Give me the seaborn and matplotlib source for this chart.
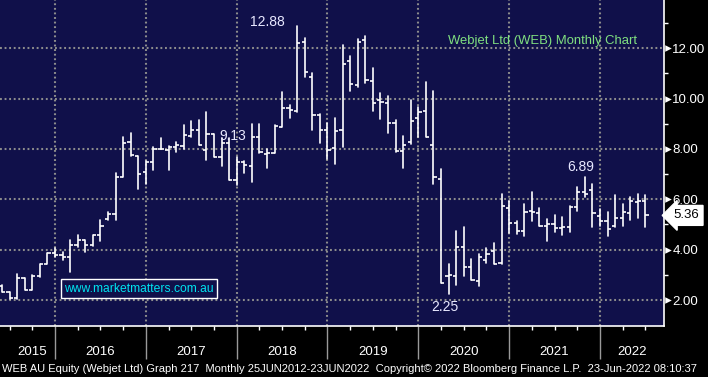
import numpy as np
import pandas as pd
import matplotlib
matplotlib.use("Agg")
import matplotlib.pyplot as plt
import matplotlib.transforms as mtransforms
import seaborn as sns

# monthly OHLC, WEB AU, May-2015 .. Jun-2022
start = "2015-05-31"
opens = [2.55, 2.31, 2.07, 2.86, 2.41, 2.94, 3.45, 3.85,
         3.80, 3.72, 4.17, 4.37, 4.17, 4.57, 5.20, 5.43, 6.90, 8.28, 7.70, 7.08,
         7.48, 7.99, 7.95, 8.08, 8.10, 8.50, 8.74, 7.97, 8.60, 7.68, 8.23, 6.75,
         7.48, 7.32, 8.47, 7.78, 7.84, 8.87, 9.64, 9.50, 12.23, 10.86, 9.36, 8.74,
         8.05, 8.74, 11.48, 10.53, 12.32, 10.69, 9.93, 9.81, 9.04, 7.91, 8.28, 9.22,
         9.51, 8.14, 6.80, 2.97, 2.97, 4.10, 3.32, 2.77, 3.60, 3.95, 3.46, 5.66,
         5.05, 4.73, 5.55, 5.46, 4.93, 5.02, 4.86, 4.89, 5.68, 6.28, 6.37, 5.35,
         5.15, 4.93, 5.26, 5.46, 5.88, 5.92]
highs = [2.58, 2.33, 3.02, 2.88, 3.00, 3.45, 3.85, 4.05,
         3.90, 4.37, 4.60, 4.40, 4.60, 5.16, 5.49, 7.05, 8.47, 8.62, 7.71, 7.51,
         8.08, 8.42, 8.10, 8.27, 8.94, 9.12, 9.14, 9.47, 8.60, 8.45, 8.45, 7.68,
         7.52, 8.98, 8.98, 8.00, 8.94, 10.26, 9.73, 12.88, 12.42, 11.03, 9.40, 9.04,
         9.24, 12.12, 11.68, 12.36, 12.48, 11.23, 10.20, 10.08, 9.15, 8.51, 9.95, 9.68,
         10.64, 10.28, 7.22, 3.43, 4.76, 4.89, 3.63, 3.83, 4.07, 4.25, 6.20, 5.95,
         5.15, 5.81, 6.30, 5.66, 5.22, 5.39, 5.28, 5.75, 6.48, 6.89, 6.61, 5.62,
         5.48, 6.15, 5.81, 6.10, 6.19, 6.15]
lows = [2.30, 2.05, 2.05, 2.38, 2.38, 2.91, 3.45, 3.69,
        3.60, 3.11, 4.10, 3.90, 4.15, 4.34, 5.16, 5.17, 6.87, 7.71, 6.41, 6.60,
        7.15, 7.99, 7.15, 7.88, 7.99, 8.47, 8.14, 7.54, 7.68, 7.32, 6.75, 6.55,
        7.04, 6.68, 7.84, 7.25, 7.84, 8.87, 9.24, 9.47, 10.86, 8.76, 8.23, 7.61,
        7.41, 8.07, 10.30, 10.46, 10.62, 9.51, 9.19, 8.64, 7.89, 7.26, 8.18, 8.46,
        8.48, 6.62, 2.67, 2.25, 2.61, 2.97, 2.78, 2.57, 3.46, 3.43, 3.43, 4.65,
        4.62, 4.56, 5.15, 4.93, 4.33, 4.69, 4.60, 4.69, 5.52, 6.08, 4.89, 4.95,
        4.56, 4.91, 4.95, 5.19, 5.26, 4.89]
closes = [2.31, 2.07, 2.86, 2.41, 2.94, 3.45, 3.85, 3.80,
          3.72, 4.17, 4.37, 4.17, 4.57, 4.94, 5.43, 6.90, 8.23, 7.74, 7.02, 7.48,
          7.98, 8.00, 8.08, 8.15, 8.54, 8.74, 8.14, 8.60, 7.68, 8.23, 6.75, 7.48,
          7.35, 8.47, 7.88, 7.84, 8.90, 9.64, 9.56, 12.19, 11.06, 9.36, 8.74, 7.94,
          8.70, 11.36, 10.57, 12.23, 10.75, 9.82, 9.85, 9.02, 7.91, 8.15, 9.11, 9.48,
          8.48, 6.89, 2.67, 2.99, 4.12, 3.30, 2.79, 3.70, 3.83, 3.45, 5.75, 5.05,
          4.75, 5.51, 5.48, 4.93, 5.02, 4.86, 4.91, 5.68, 6.28, 6.21, 5.44, 5.15,
          4.82, 5.26, 5.48, 5.92, 5.92, 5.36]

price_ticks = [2, 4, 6, 8, 10, 12]
minor_price_ticks = [3, 5, 7, 9, 11, 13]
labels = [("12.88", 35.0, 13.04), ("9.13", 30.5, 8.50),
          ("6.89", 76.5, 7.29), ("2.25", 58.5, 1.74)]
last_price = 5.36
title = "Webjet Ltd (WEB) Monthly Chart"
footer = ("WEB AU Equity (Webjet Ltd) Graph 217  Monthly 25JUN2012-23JUN2022  "
          "Copyright\u00a9 2022 Bloomberg Finance L.P.  23-Jun-2022 08:10:37")

dates = pd.date_range(start, periods=len(opens), freq="ME")
df = pd.DataFrame({"date": dates, "open": opens, "high": highs,
                   "low": lows, "close": closes})
df["x"] = np.arange(len(df))

# long form for high-low sticks
hl = pd.concat([df[["x", "low"]].rename(columns={"low": "price"}),
                df[["x", "high"]].rename(columns={"high": "price"})])
hl["bar"] = hl["x"]

sns.set_theme(style="dark")
plt.rcParams["font.family"] = ["Liberation Sans", "DejaVu Sans"]

navy = "#10104a"
fig = plt.figure(figsize=(7.08, 3.77), dpi=100, facecolor="black")
ax = fig.add_axes([0, 1 - 326 / 377, 664 / 708, 326 / 377])
ax.set_facecolor(navy)

sns.lineplot(data=hl, x="x", y="price", units="bar", estimator=None,
             sort=False, color="white", lw=1.2, ax=ax, legend=False)
tick_len = 0.42
ax.hlines(df["open"], df["x"] - tick_len, df["x"], color="white", lw=1.2)
ax.hlines(df["close"], df["x"], df["x"] + tick_len, color="white", lw=1.2)

ax.set_xlim(-0.26, 87.45)
ax.set_ylim(0.97, 13.91)
ax.set_xlabel("")
ax.set_ylabel("")

# year boundaries = December bars
year_ends = df.loc[df["date"].dt.month == 12, "x"].tolist()
quarters = df.loc[df["date"].dt.month.isin([3, 6, 9]), "x"].tolist()
ax.set_xticks(year_ends)
ax.set_xticklabels([])
ax.set_xticks(quarters, minor=True)
ax.tick_params(axis="x", which="major", length=24, width=1, color="#9a9a9a",
               direction="out", bottom=True)
ax.tick_params(axis="x", which="minor", length=3, width=1, color="white",
               direction="out", bottom=True)

ax.yaxis.tick_right()
ax.set_yticks(price_ticks)
ax.set_yticklabels([f"{v:.2f}" for v in price_ticks])
ax.set_yticks(minor_price_ticks, minor=True)
ax.tick_params(axis="y", which="major", length=0, pad=6, labelsize=9.5,
               labelcolor="white", right=True, left=False)
ax.tick_params(axis="y", which="minor", length=3, width=1, color="white",
               direction="out", right=True, left=False)

tr = mtransforms.blended_transform_factory(ax.transAxes, ax.transData)
ax.scatter([1.0055] * len(price_ticks), price_ticks, transform=tr, marker=">",
           s=22, color="white", clip_on=False, zorder=5, linewidths=0)

ax.grid(True, which="major", color="#8c8c8c", linestyle=(0, (0.9, 1.3)), lw=1.5)
ax.set_axisbelow(True)

for s in ["left", "top"]:
    ax.spines[s].set_visible(False)
for s in ["right", "bottom"]:
    ax.spines[s].set_visible(True)
    ax.spines[s].set_color("white")
    ax.spines[s].set_linewidth(1.2)

# year labels, centred on the visible part of each year
xmin, xmax = ax.get_xlim()
years = sorted(df["date"].dt.year.unique())
trx = mtransforms.blended_transform_factory(ax.transData, ax.transAxes)
for yr in years:
    xs = df.loc[df["date"].dt.year == yr, "x"]
    lo = max(xs.min() - 1, xmin)
    hi = min(xs.max(), xmax) if yr != years[-1] else xmax
    if yr == years[0]:
        lo = xs.min() + 0.9
    ax.text((lo + hi) / 2, -0.08, str(yr), transform=trx, ha="center",
            va="center", color="white", fontsize=9.5)

for txt, lx, ly in labels:
    ax.text(lx, ly, txt, ha="center", va="center", color="#e8e8ff", fontsize=10)

ax.text(543 / 664, 1 - 41 / 326, title, transform=ax.transAxes, ha="center",
        va="center", color="#80e080", fontsize=9.4)

ax.text(64 / 664, 1 - 288.5 / 326, "www.marketmatters.com.au",
        transform=ax.transAxes, ha="left", va="center", color="#00e4f0",
        fontsize=8.7,
        bbox=dict(boxstyle="square,pad=0.25", fc=navy, ec="white", lw=1))

ax.text(1.014, last_price, f"{last_price:.2f}", transform=tr, ha="left",
        va="center", color="black", fontsize=9.5, clip_on=False,
        bbox=dict(boxstyle="larrow,pad=0.3", fc="white", ec="white"))

fig.text(2 / 708, 1 - 369 / 377, footer, ha="left", va="center",
         color="white", fontsize=8.05)

fig.savefig("out.png", dpi=100, facecolor="black")
